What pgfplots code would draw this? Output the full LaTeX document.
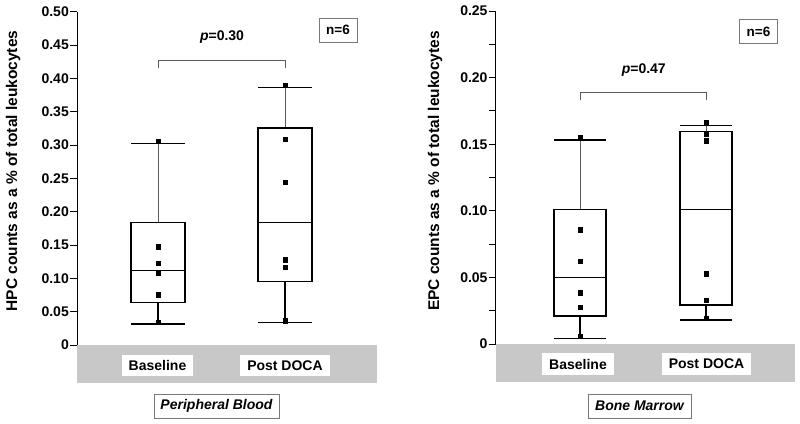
\documentclass[border=0pt]{standalone}
\usepackage{pgfplots}
\pgfplotsset{compat=1.18}
\usepgfplotslibrary{statistics}
\usepackage{fontspec}
\setmainfont{Liberation Sans}
\definecolor{band}{RGB}{200,200,200}
\definecolor{framegray}{RGB}{120,120,120}
\definecolor{wgray}{RGB}{90,90,90}
\newcommand{\fs}[1]{\fontsize{#1}{#1}\selectfont}
\pgfplotsset{
  panel/.style={
    scale only axis, clip=false,
    axis x line=none, axis y line=left,
    axis line style={-, line width=0.9pt, black},
    tick align=outside, major tick length=7pt, minor tick length=7pt,
    ytick pos=left,
    every tick/.style={line width=0.9pt, black},
    yticklabel style={font=\fs{14}\bfseries, inner sep=1pt},
    /pgf/number format/assume math mode=true,
    boxplot/draw direction=y,
    boxplot/draw/upper whisker/.code={%
      \draw[color=wgray, line width=0.8pt] (boxplot box cs:\pgfplotsboxplotvalue{upper quartile},0.5) -- (boxplot box cs:\pgfplotsboxplotvalue{upper whisker},0.5);
      \draw[line width=1.5pt] (boxplot whisker cs:\pgfplotsboxplotvalue{upper whisker},0) -- (boxplot whisker cs:\pgfplotsboxplotvalue{upper whisker},1);
    },
    boxplot/draw/lower whisker/.code={%
      \draw[line width=1.5pt] (boxplot box cs:\pgfplotsboxplotvalue{lower quartile},0.5) -- (boxplot box cs:\pgfplotsboxplotvalue{lower whisker},0.5);
      \draw[line width=1.5pt] (boxplot whisker cs:\pgfplotsboxplotvalue{lower whisker},0) -- (boxplot whisker cs:\pgfplotsboxplotvalue{lower whisker},1);
    },
    boxplot/draw/median/.code={%
      \draw[line width=0.9pt] (boxplot box cs:\pgfplotsboxplotvalue{median},0) -- (boxplot box cs:\pgfplotsboxplotvalue{median},1);
    },
  },
  pts/.style={only marks, mark=square*, mark size=2.3pt, black},
  brk/.style={wgray, line width=0.8pt},
}
\begin{document}
\begin{tikzpicture}
\path[use as bounding box] (0pt,0pt) rectangle (800pt,423pt);
% grey bands with category labels
\fill[band] (77pt,40pt) rectangle (377pt,78pt);
\fill[band] (495.7pt,41pt) rectangle (795pt,79pt);
\tikzset{cat/.style={fill=white, inner xsep=7pt, inner ysep=0pt, minimum height=21pt, font=\fs{14}\bfseries}}
\node[cat] at (157.5pt,57.5pt) {Baseline};
\node[cat] at (285pt,57.5pt) {Post DOCA};
\node[cat] at (578pt,59pt) {Baseline};
\node[cat] at (706.5pt,59pt) {Post DOCA};
% bottom boxed titles
\tikzset{ttl/.style={draw=framegray, line width=0.9pt, fill=white, minimum height=24pt, inner ysep=0pt, font=\fs{14}\bfseries\itshape}}
\node[ttl, minimum width=125pt] at (216.5pt,17pt) {Peripheral Blood};
\node[ttl, minimum width=103pt] at (639.5pt,17pt) {Bone Marrow};
% n=6 boxes
\tikzset{nbox/.style={draw=framegray, line width=0.9pt, minimum width=38pt, minimum height=24pt, inner sep=0pt, font=\fs{13.5}\bfseries}}
\node[nbox] at (338pt,393pt) {n=6};
\node[nbox] at (758.5pt,391.5pt) {n=6};
% y labels
\node[rotate=90, font=\fs{15.5}\bfseries] at (13pt,252pt) {HPC counts as a \% of total leukocytes};
\node[rotate=90, font=\fs{15.5}\bfseries] at (435pt,252pt) {EPC counts as a \% of total leukocytes};

% ---------------- left panel ----------------
\begin{axis}[panel,
  at={(77pt,78pt)}, anchor=south west,
  width=300pt, height=333.3pt,
  xmin=0.362, xmax=2.724, ymin=0, ymax=0.5,
  ytick={0,0.05,0.10,0.15,0.20,0.25,0.30,0.35,0.40,0.45,0.50},
  yticklabels={0,0.05,0.10,0.15,0.20,0.25,0.30,0.35,0.40,0.45,0.50},
  boxplot/box extend=0.425, boxplot/whisker extend=0.425,
]
\addplot[black, line width=1.2pt, boxplot prepared={draw position=1,
  lower whisker=0.0315, lower quartile=0.064, median=0.1115,
  upper quartile=0.184, upper whisker=0.3025}] coordinates {};
\addplot[black, line width=1.2pt, boxplot prepared={draw position=2,
  lower whisker=0.0335, lower quartile=0.095, median=0.184,
  upper quartile=0.3255, upper whisker=0.386}] coordinates {};
\addplot[pts] coordinates {(1,0.306) (1,0.1475) (1,0.1225) (1,0.1085) (1,0.0755) (1,0.034)};
\addplot[pts] coordinates {(2,0.3895) (2,0.3085) (2,0.2445) (2,0.128) (2,0.1165) (2,0.0365)};
\addplot[brk] coordinates {(1,0.415) (1,0.4265) (2,0.4265) (2,0.415)};
\node[font=\fs{14}\bfseries] at (axis cs:1.504,0.4625) {\textit{p}=0.30};
\end{axis}

% ---------------- right panel ----------------
\begin{axis}[panel,
  at={(495.7pt,79pt)}, anchor=south west,
  width=299.3pt, height=333pt,
  xmin=0.331, xmax=2.706, ymin=0, ymax=0.25,
  ytick={0,0.05,0.10,0.15,0.20,0.25},
  yticklabels={0,0.05,0.10,0.15,0.20,0.25},
  minor ytick={0.025,0.075,0.125,0.175,0.225},
  boxplot/box extend=0.413, boxplot/whisker extend=0.413,
]
\addplot[black, line width=1.2pt, boxplot prepared={draw position=1,
  lower whisker=0.00425, lower quartile=0.021, median=0.050,
  upper quartile=0.101, upper whisker=0.153}] coordinates {};
\addplot[black, line width=1.2pt, boxplot prepared={draw position=2,
  lower whisker=0.018, lower quartile=0.0293, median=0.101,
  upper quartile=0.1594, upper whisker=0.164}] coordinates {};
\addplot[pts] coordinates {(1,0.1547) (1,0.086) (1,0.0623) (1,0.0385) (1,0.0275) (1,0.006)};
\addplot[pts] coordinates {(2,0.166) (2,0.158) (2,0.1527) (2,0.0526) (2,0.033) (2,0.0193)};
\addplot[brk] coordinates {(1,0.183) (1,0.1887) (2,0.1887) (2,0.183)};
\node[font=\fs{14}\bfseries] at (axis cs:1.506,0.2057) {\textit{p}=0.47};
\end{axis}
\end{tikzpicture}
\end{document}
